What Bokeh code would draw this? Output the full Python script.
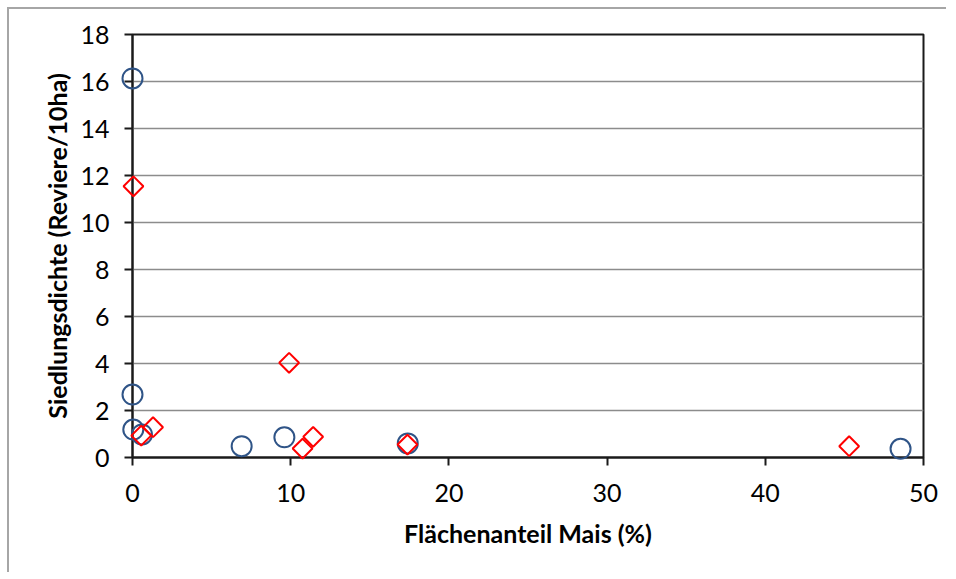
from bokeh.plotting import figure
from bokeh.models import Range1d, FixedTicker
from bokeh.embed import file_html
from bokeh.resources import INLINE
import math

# Series 1: blue circles
circle_x = [0.0, 0.0, 0.05, 0.6, 6.9, 9.6, 17.4, 48.55]
circle_y = [16.13, 2.68, 1.19, 0.98, 0.48, 0.86, 0.60, 0.37]

# Series 2: red diamonds
diamond_x = [0.06, 9.9, 1.3, 0.55, 10.75, 11.42, 17.38, 45.3]
diamond_y = [11.54, 4.03, 1.29, 0.93, 0.38, 0.88, 0.55, 0.48]

x_ticks = [0, 10, 20, 30, 40, 50]
y_ticks = [0, 2, 4, 6, 8, 10, 12, 14, 16, 18]

x_title = "Flächenanteil Mais (%)"
y_title = "Siedlungsdichte (Reviere/10ha)"

FONT = "Lato"

p = figure(width=939, height=565, output_backend="svg", toolbar_location=None,
           x_range=Range1d(0, 50), y_range=Range1d(0, 18),
           min_border_left=123, min_border_right=25, min_border_top=25,
           min_border_bottom=117)
p.margin = (7, 0, 0, 7)
p.styles = {"border-top": "2px solid #A6A6A6", "border-left": "2px solid #A6A6A6"}

p.outline_line_color = "#1a1a1a"
p.outline_line_width = 2
p.background_fill_color = "white"
p.border_fill_color = "white"

p.xgrid.visible = False
p.ygrid.ticker = FixedTicker(ticks=y_ticks)
p.ygrid.grid_line_color = "#8C8C8C"
p.ygrid.grid_line_width = 1.5

for ax in (p.xaxis[0], p.yaxis[0]):
    ax.axis_line_color = "#1a1a1a"
    ax.axis_line_width = 2
    ax.major_tick_line_color = "#1a1a1a"
    ax.major_tick_line_width = 2
    ax.major_tick_in = 0
    ax.major_tick_out = 8
    ax.minor_tick_line_color = None
    ax.major_label_text_font = FONT
    ax.major_label_text_font_size = "25px"
    ax.major_label_text_color = "black"
    ax.axis_label_text_font = FONT
    ax.axis_label_text_font_style = "bold"
    ax.axis_label_text_font_size = "25px"
    ax.axis_label_text_color = "black"

p.xaxis.ticker = FixedTicker(ticks=x_ticks)
p.yaxis.ticker = FixedTicker(ticks=y_ticks)
p.xaxis.axis_label = x_title
p.yaxis.axis_label = y_title
p.xaxis.major_label_standoff = 18
p.yaxis.major_label_standoff = 15
p.xaxis.axis_label_standoff = 13
p.yaxis.axis_label_standoff = 5

r1 = p.scatter(circle_x, circle_y, marker="circle", size=20, fill_color=None,
               line_color="#2F5487", line_width=2)
r2 = p.scatter(diamond_x, diamond_y, marker="square", size=14, angle=math.pi / 4,
               fill_color=None, line_color="#FF0000", line_width=2)
# draw markers above the frame clip so points on the axes stay whole
r1.level = "overlay"
r2.level = "overlay"

open("out.html", "w").write(file_html(p, INLINE))
